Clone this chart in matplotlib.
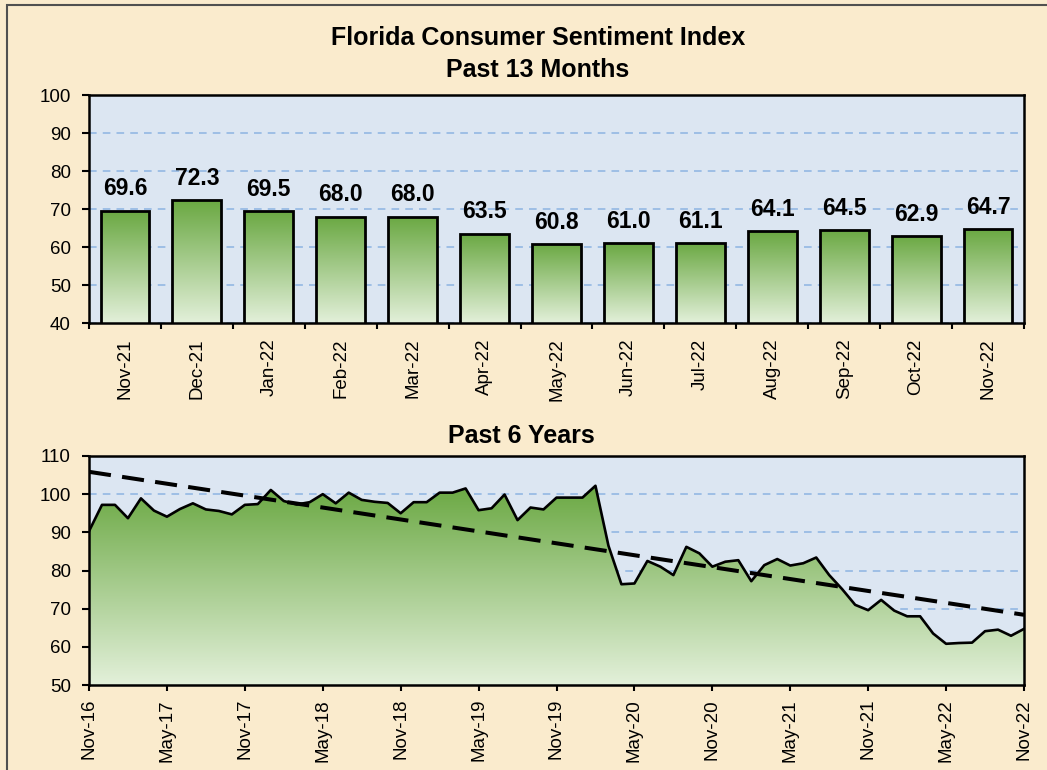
import numpy as np
import matplotlib.pyplot as plt
from matplotlib.colors import LinearSegmentedColormap
from matplotlib.patches import Rectangle, Polygon

months_13 = ["Nov-21", "Dec-21", "Jan-22", "Feb-22", "Mar-22", "Apr-22", "May-22",
             "Jun-22", "Jul-22", "Aug-22", "Sep-22", "Oct-22", "Nov-22"]
index_13 = [69.6, 72.3, 69.5, 68.0, 68.0, 63.5, 60.8, 61.0, 61.1, 64.1, 64.5, 62.9, 64.7]

# monthly index, Nov-16 .. Nov-22
index_6y = [
    90.3, 97.2,
    97.2, 93.7, 98.9, 95.7, 94.1, 96.1, 97.6, 96.0, 95.6, 94.7, 97.2, 97.4,
    101.1, 98.2, 97.3, 97.9, 100.0, 97.6, 100.4, 98.5, 98.0, 97.7, 95.0, 97.9,
    97.9, 100.4, 100.4, 101.5, 95.8, 96.3, 99.9, 93.2, 96.5, 96.0, 99.1, 99.1,
    99.1, 102.2, 86.5, 76.4, 76.6, 82.5, 81.0, 78.8, 86.2, 84.5, 81.0, 82.3,
    82.7, 77.2, 81.4, 83.0, 81.3, 81.9, 83.4, 78.8, 75.1, 71.0, 69.6, 72.3,
    69.5, 68.0, 68.0, 63.5, 60.8, 61.0, 61.1, 64.1, 64.5, 62.9, 64.7,
]
ticks_6y = ["Nov-16", "May-17", "Nov-17", "May-18", "Nov-18", "May-19", "Nov-19",
            "May-20", "Nov-20", "May-21", "Nov-21", "May-22", "Nov-22"]

plt.rcParams["font.family"] = ["Liberation Sans", "DejaVu Sans"]

BG = "#FAEBCD"
PLOT_BG = "#DCE6F2"
GRID = "#8DB4E2"
greens = LinearSegmentedColormap.from_list("greens", ["#E3F0DA", "#6AA842"])
grad = np.linspace(0, 1, 256).reshape(-1, 1)

W, H = 1047, 770
fig = plt.figure(figsize=(W / 100, H / 100), dpi=100, facecolor=BG)
fig.patches.append(Rectangle((7 / W, -1), 2, 1 + (H - 5) / H, transform=fig.transFigure,
                             fill=False, ec="#505050", lw=1.5))


def style_axes(ax):
    ax.set_facecolor(PLOT_BG)
    ax.set_axisbelow(True)
    for s in ax.spines.values():
        s.set_linewidth(1.8)
        s.set_color("black")
    ax.yaxis.grid(True, color=GRID, linestyle=(0, (5, 4)), linewidth=1.1)
    ax.tick_params(axis="y", direction="out", length=5, width=1.5, labelsize=13.5, pad=8)
    ax.tick_params(axis="x", direction="out", length=4, width=1.5, labelsize=13.5)


# --- top: past 13 months ---
ax1 = fig.add_axes([89 / W, 447 / H, 935 / W, 228 / H])
style_axes(ax1)
x = np.arange(len(months_13))
bw = 0.68
bars = ax1.bar(x, index_13, width=bw, fc="none", ec="black", lw=2, zorder=3)
for b, xi, v in zip(bars, x, index_13):
    im = ax1.imshow(grad, cmap=greens, origin="lower", aspect="auto",
                    extent=(xi - bw / 2, xi + bw / 2, 40, v), zorder=2)
    im.set_clip_path(b)
    ax1.annotate(f"{v:.1f}", (xi, v), xytext=(0, 11), textcoords="offset points",
                 ha="center", va="baseline", fontsize=16.5, fontweight="bold")
ax1.set_xlim(-0.5, len(months_13) - 0.5)
ax1.set_ylim(40, 100)
ax1.set_yticks(range(40, 101, 10))
ax1.set_xticks(np.arange(-0.5, len(months_13), 1))
ax1.set_xticklabels([])
ax1.set_xticks(x, minor=True)
ax1.set_xticklabels(months_13, minor=True, rotation=90)
ax1.tick_params(axis="x", which="minor", length=0, pad=11, labelsize=13.5)

# --- bottom: past 6 years ---
ax2 = fig.add_axes([89 / W, 85 / H, 935 / W, 229 / H])
style_axes(ax2)
idx = np.arange(len(index_6y))
vals = np.array(index_6y)
poly = Polygon([(0, 50)] + list(zip(idx, vals)) + [(idx[-1], 50)], closed=True,
               fc="none", ec="none")
ax2.add_patch(poly)
im = ax2.imshow(grad, cmap=greens, origin="lower", aspect="auto",
                extent=(0, idx[-1], 50, vals.max()), zorder=2)
im.set_clip_path(poly)
ax2.plot(idx, vals, color="black", lw=1.9, zorder=3)
slope, intercept = np.polyfit(idx, vals, 1)
ax2.plot(idx, slope * idx + intercept, color="black", lw=2.9,
         linestyle=(0, (5.5, 2.8)), zorder=4)
ax2.set_xlim(0, idx[-1])
ax2.set_ylim(50, 110)
ax2.set_yticks(range(50, 111, 10))
ax2.set_xticks(idx[::6])
ax2.set_xticklabels(ticks_6y, rotation=90)
ax2.tick_params(axis="x", pad=6)

fig.text(538 / W, 1 - 38 / H, "Florida Consumer Sentiment Index", ha="center",
         va="center", fontsize=18, fontweight="bold")
fig.text(538 / W, 1 - 70 / H, "Past 13 Months", ha="center", va="center",
         fontsize=18, fontweight="bold")
fig.text(521 / W, 1 - 436 / H, "Past 6 Years", ha="center", va="center",
         fontsize=18, fontweight="bold")

fig.savefig("out.png", dpi=100, facecolor=BG)
